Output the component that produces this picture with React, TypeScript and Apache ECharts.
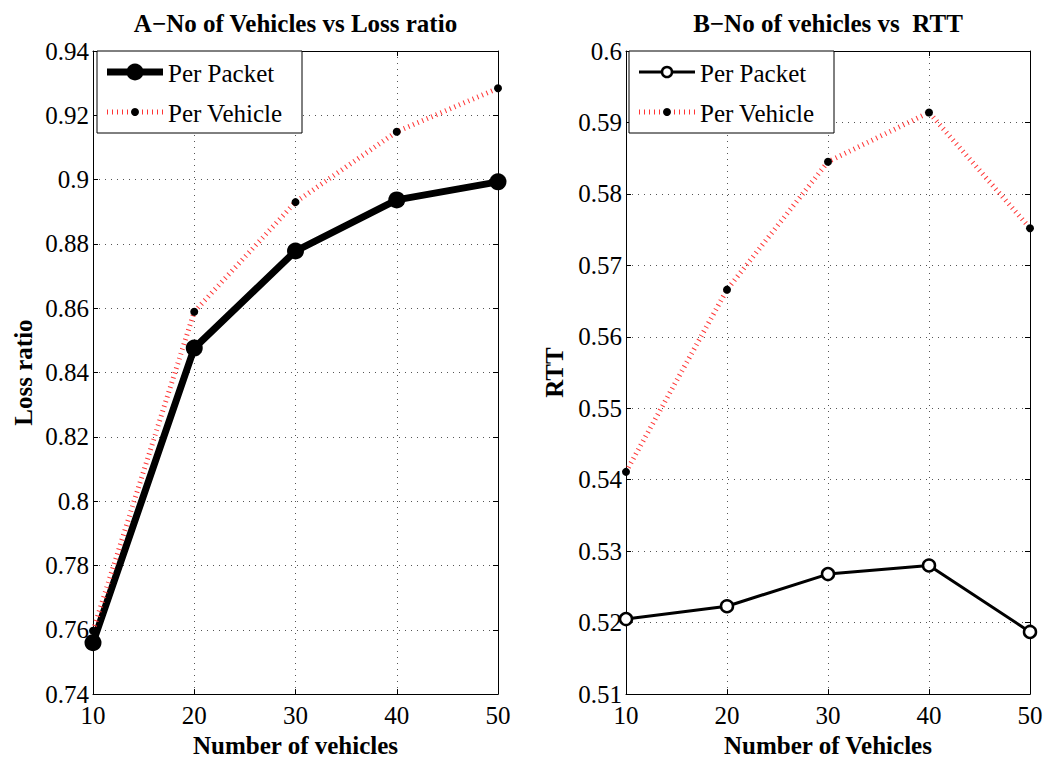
import React, { useEffect, useRef } from 'react';
import * as echarts from 'echarts';

// ---- data ----
const vehicles = [10, 20, 30, 40, 50];
const lossPerPacket = [0.756, 0.8476, 0.8778, 0.8937, 0.8993];
const lossPerVehicle = [0.7597, 0.8589, 0.893, 0.9149, 0.9284];
const rttPerPacket = [0.5205, 0.5223, 0.5268, 0.528, 0.5187];
const rttPerVehicle = [0.5411, 0.5666, 0.5845, 0.5914, 0.5752];

const titles = ['A\u2212No of Vehicles vs Loss ratio', 'B\u2212No of vehicles vs  RTT'];
const xNames = ['Number of vehicles', 'Number of Vehicles'];
const yNames = ['Loss ratio', 'RTT'];
const legendNames = ['Per Packet', 'Per Vehicle'];
const xRange = { min: 10, max: 50, interval: 10 };
const yRanges = [
  { min: 0.74, max: 0.94, interval: 0.02 },
  { min: 0.51, max: 0.6, interval: 0.01 },
];

const FONT = 'Liberation Serif';
const RED = '#ff3535';
const FS = 25;

const grids = [
  { left: 93, top: 51, width: 405, height: 653 },
  { left: 626, top: 51, width: 404, height: 653 },
];

const fmt = (v: number) => String(parseFloat(v.toFixed(3)));

function buildOption() {
  const xAxis: any[] = [];
  const yAxis: any[] = [];
  const axisLine = { show: true, onZero: false, lineStyle: { color: '#000', width: 1 } };
  const axisTick = { show: true, inside: true, length: 5, lineStyle: { color: '#000', width: 1 } };
  const nameStyle = { fontFamily: FONT, fontWeight: 'bold', fontSize: FS, color: '#000' };
  const labelStyle = { fontFamily: FONT, fontWeight: 'normal', fontSize: FS, color: '#000' };
  const split = { show: true, lineStyle: { color: '#555', width: 1, type: [1, 5] } };

  grids.forEach((_, i) => {
    xAxis.push({
      type: 'value', gridIndex: i, ...xRange, position: 'bottom',
      axisLine, axisTick,
      axisLabel: { ...labelStyle, margin: 9, formatter: fmt },
      splitLine: split,
      name: xNames[i], nameLocation: 'middle', nameGap: 34, nameTextStyle: nameStyle,
    });
    xAxis.push({
      type: 'value', gridIndex: i, ...xRange, position: 'top',
      axisLine, axisTick, axisLabel: { show: false }, splitLine: { show: false },
    });
    yAxis.push({
      type: 'value', gridIndex: i, ...yRanges[i], position: 'left',
      axisLine, axisTick,
      axisLabel: { ...labelStyle, margin: 4, formatter: fmt },
      splitLine: split,
      name: yNames[i], nameLocation: 'middle', nameGap: i === 0 ? 57 : 59, nameTextStyle: nameStyle,
    });
    yAxis.push({
      type: 'value', gridIndex: i, ...yRanges[i], position: 'right',
      axisLine, axisTick, axisLabel: { show: false }, splitLine: { show: false },
    });
  });

  const pairs = (ys: number[]) => vehicles.map((x, k) => [x, ys[k]]);

  const series: any[] = [
    {
      name: 'A ' + legendNames[0], type: 'line', xAxisIndex: 0, yAxisIndex: 0,
      data: pairs(lossPerPacket), symbol: 'circle', symbolSize: 17,
      lineStyle: { color: '#000', width: 7 }, itemStyle: { color: '#000' },
    },
    {
      name: 'A ' + legendNames[1], type: 'line', xAxisIndex: 0, yAxisIndex: 0,
      data: pairs(lossPerVehicle), symbol: 'circle', symbolSize: 8,
      lineStyle: { color: RED, width: 5, type: [1, 4] }, itemStyle: { color: '#000' },
    },
    {
      name: 'B ' + legendNames[0], type: 'line', xAxisIndex: 2, yAxisIndex: 2,
      data: pairs(rttPerPacket), symbol: 'circle', symbolSize: 12,
      lineStyle: { color: '#000', width: 3 },
      itemStyle: { color: '#fff', borderColor: '#000', borderWidth: 2.5 },
    },
    {
      name: 'B ' + legendNames[1], type: 'line', xAxisIndex: 2, yAxisIndex: 2,
      data: pairs(rttPerVehicle), symbol: 'circle', symbolSize: 8,
      lineStyle: { color: RED, width: 5, type: [1, 4] }, itemStyle: { color: '#000' },
    },
  ];

  const legendBox = (dx: number, packetThick: boolean) => {
    const t = (x: number, y: number, text: string) => ({
      type: 'text', x, y, z: 101,
      style: { text, fontFamily: FONT, fontSize: FS, fill: '#000', align: 'left', verticalAlign: 'middle', textAlign: 'left', textVerticalAlign: 'middle' },
    });
    return {
      type: 'group', z: 100,
      children: [
        { type: 'rect', z: 100, shape: { x: 97 + dx, y: 51, width: 205, height: 82 }, style: { fill: '#fff', stroke: '#000', lineWidth: 1 } },
        { type: 'line', z: 101, shape: { x1: 107 + dx, y1: 72, x2: 163 + dx, y2: 72 }, style: { stroke: '#000', lineWidth: packetThick ? 7 : 3 } },
        packetThick
          ? { type: 'circle', z: 102, shape: { cx: 135 + dx, cy: 72, r: 8.5 }, style: { fill: '#000' } }
          : { type: 'circle', z: 102, shape: { cx: 135 + dx, cy: 72, r: 5 }, style: { fill: '#fff', stroke: '#000', lineWidth: 2.5 } },
        t(168 + dx, 73, legendNames[0]),
        { type: 'line', z: 101, shape: { x1: 107 + dx, y1: 112, x2: 163 + dx, y2: 112 }, style: { stroke: RED, lineWidth: 5, lineDash: [1, 4] } },
        { type: 'circle', z: 102, shape: { cx: 135 + dx, cy: 112, r: 4 }, style: { fill: '#000' } },
        t(168 + dx, 113, legendNames[1]),
      ],
    };
  };

  return {
    animation: false,
    backgroundColor: '#fff',
    textStyle: { fontFamily: FONT },
    title: grids.map((g, i) => ({
      text: titles[i], left: g.left + g.width / 2, top: 11, textAlign: 'center', padding: 0,
      textStyle: { fontFamily: FONT, fontWeight: 'bold', fontSize: FS, color: '#000' },
    })),
    grid: grids.map((g) => ({ ...g, containLabel: false })),
    xAxis, yAxis, series,
    graphic: [legendBox(0, true), legendBox(532, false)],
  };
}

export default function App() {
  const ref = useRef<HTMLDivElement>(null);
  useEffect(() => {
    if (!ref.current) return;
    const chart = echarts.init(ref.current, undefined, { renderer: 'svg' });
    chart.setOption(buildOption() as any);
    return () => chart.dispose();
  }, []);
  return <div ref={ref} style={{ position: 'fixed', left: 0, top: 0, width: 1050, height: 763, background: '#fff' }} />;
}
